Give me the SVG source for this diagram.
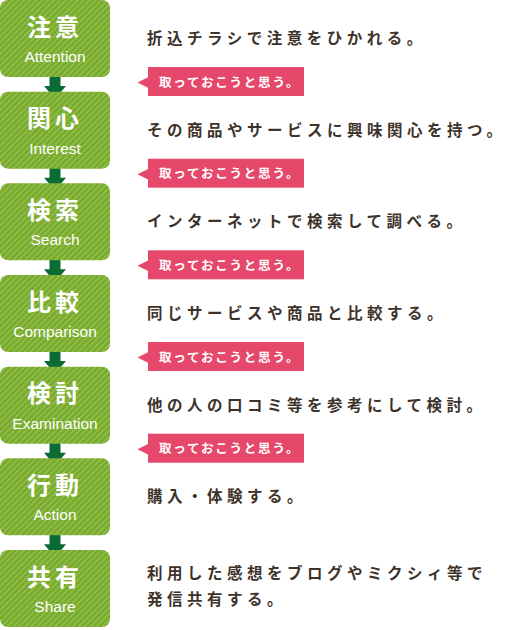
<svg xmlns="http://www.w3.org/2000/svg" width="505" height="630" viewBox="0 0 505 630">
<defs>
<pattern id="stripe" patternUnits="userSpaceOnUse" width="4.2" height="4.2" patternTransform="rotate(45)">
<rect width="4.2" height="4.2" fill="#79ab2d"/>
<rect width="1" height="4.2" fill="#9cc65c"/>
</pattern>
<style>
.box{fill:url(#stripe)}
.ttl{font-family:"Noto Sans CJK JP","Noto Sans CJK SC",sans-serif;font-weight:bold;font-size:24px;fill:#fff;letter-spacing:4px}
.en{font-family:"Liberation Sans",Arial,sans-serif;font-size:15.5px;fill:#fff;text-anchor:middle}
.desc{font-family:"Noto Sans CJK JP","Noto Sans CJK SC",sans-serif;font-weight:bold;font-size:15.5px;fill:#3d332b;letter-spacing:4.5px}
.tag{fill:#e5486a}
.tagt{font-family:"Noto Sans CJK JP","Noto Sans CJK SC",sans-serif;font-weight:bold;font-size:12.5px;fill:#fff;letter-spacing:1.8px}
.arr{fill:#0a6b35}
</style>
</defs>
<g id="connectors">
<polygon class="arr" points="49.5,76 60.5,76 60.5,86 66,86 55,99 44,86 49.5,86"/>
<polygon class="arr" points="49.5,167.7 60.5,167.7 60.5,177.7 66,177.7 55,190.7 44,177.7 49.5,177.7"/>
<polygon class="arr" points="49.5,259.3 60.5,259.3 60.5,269.3 66,269.3 55,282.3 44,269.3 49.5,269.3"/>
<polygon class="arr" points="49.5,351 60.5,351 60.5,361 66,361 55,374 44,361 49.5,361"/>
<polygon class="arr" points="49.5,442.7 60.5,442.7 60.5,452.7 66,452.7 55,465.7 44,452.7 49.5,452.7"/>
<polygon class="arr" points="49.5,534.3 60.5,534.3 60.5,544.3 66,544.3 55,557.3 44,544.3 49.5,544.3"/>
</g>
<g id="node-attention">
<rect class="box" x="0" y="0" width="110" height="77" rx="8"/>
<text class="ttl" x="27" y="35.5">注意</text>
<text class="en" x="55" y="62">Attention</text>
<text class="desc" x="147" y="44">折込チラシで注意をひかれる。</text>
</g>
<g id="node-interest" transform="translate(0,91.7)">
<rect class="box" x="0" y="0" width="110" height="77" rx="8"/>
<text class="ttl" x="27" y="35.5">関心</text>
<text class="en" x="55" y="62">Interest</text>
<text class="desc" x="147" y="44">その商品やサービスに興味関心を持つ。</text>
</g>
<g id="node-search" transform="translate(0,183.3)">
<rect class="box" x="0" y="0" width="110" height="77" rx="8"/>
<text class="ttl" x="27" y="35.5">検索</text>
<text class="en" x="55" y="62">Search</text>
<text class="desc" x="147" y="44">インターネットで検索して調べる。</text>
</g>
<g id="node-comparison" transform="translate(0,275)">
<rect class="box" x="0" y="0" width="110" height="77" rx="8"/>
<text class="ttl" x="27" y="35.5">比較</text>
<text class="en" x="55" y="62">Comparison</text>
<text class="desc" x="147" y="44">同じサービスや商品と比較する。</text>
</g>
<g id="node-examination" transform="translate(0,366.7)">
<rect class="box" x="0" y="0" width="110" height="77" rx="8"/>
<text class="ttl" x="27" y="35.5">検討</text>
<text class="en" x="55" y="62">Examination</text>
<text class="desc" x="147" y="44">他の人の口コミ等を参考にして検討。</text>
</g>
<g id="node-action" transform="translate(0,458.3)">
<rect class="box" x="0" y="0" width="110" height="77" rx="8"/>
<text class="ttl" x="27" y="35.5">行動</text>
<text class="en" x="55" y="62">Action</text>
<text class="desc" x="147" y="44">購入・体験する。</text>
</g>
<g id="node-share" transform="translate(0,550)">
<rect class="box" x="0" y="0" width="110" height="77" rx="8"/>
<text class="ttl" x="27" y="35.5">共有</text>
<text class="en" x="55" y="62">Share</text>
<text class="desc" x="147" y="28.5">利用した感想をブログやミクシィ等で</text>
<text class="desc" x="147" y="55">発信共有する。</text>
</g>
<g id="tags">
<g transform="translate(0,0)"><rect class="tag" x="148" y="67" width="156" height="29"/><polygon class="tag" points="148.5,77 137.5,82.5 148.5,88"/><text class="tagt" x="159" y="86.5">取っておこうと思う。</text></g>
<g transform="translate(0,91.7)"><rect class="tag" x="148" y="67" width="156" height="29"/><polygon class="tag" points="148.5,77 137.5,82.5 148.5,88"/><text class="tagt" x="159" y="86.5">取っておこうと思う。</text></g>
<g transform="translate(0,183.3)"><rect class="tag" x="148" y="67" width="156" height="29"/><polygon class="tag" points="148.5,77 137.5,82.5 148.5,88"/><text class="tagt" x="159" y="86.5">取っておこうと思う。</text></g>
<g transform="translate(0,275)"><rect class="tag" x="148" y="67" width="156" height="29"/><polygon class="tag" points="148.5,77 137.5,82.5 148.5,88"/><text class="tagt" x="159" y="86.5">取っておこうと思う。</text></g>
<g transform="translate(0,366.7)"><rect class="tag" x="148" y="67" width="156" height="29"/><polygon class="tag" points="148.5,77 137.5,82.5 148.5,88"/><text class="tagt" x="159" y="86.5">取っておこうと思う。</text></g>
</g>
</svg>
